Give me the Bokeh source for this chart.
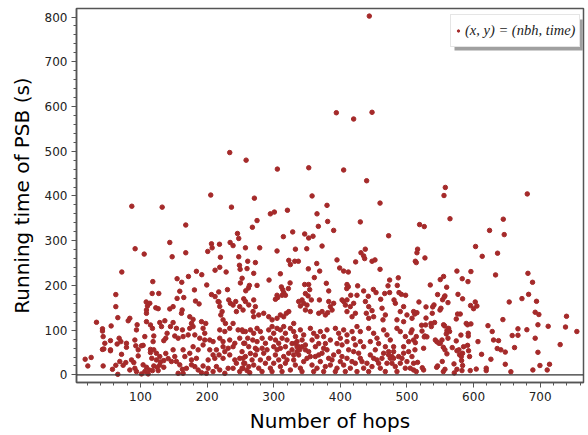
from bokeh.plotting import figure
from bokeh.models import (SingleIntervalTicker, Span, Legend, LegendItem, BoxAnnotation,
                          ColumnDataSource, Range1d)
from bokeh.embed import file_html
from bokeh.resources import INLINE

# ---- data: (number of hops, running time in s) ----
upper = [(87,377),(132.6,375),(205.5,402),(234,497),(236.6,375),(258.6,480),(271,395),(275,345),
 (295,360),(301,364),(305.5,460),(320.6,368),(443.5,802),(394,586),(420,572),(447.6,587),(352.6,463),
 (405,458),(439.5,434),(357.6,400),(380,379),(459.6,384),(557.6,419),(555.6,401),(680.6,404.5),
 (365,360),(564.6,349),(644.6,348)]
left_mid = [(168,335),(144,296),(92,282),(105.6,270),(147.6,264),(168,273),(72,230),(118.5,208.5),
 (63,179.5),(117.6,182),(127.5,182),(108.6,163),(155,215),(162,207),(172,220),(184,231.5),(192,224),
 (159,187),(181,190),(155,171),(165,173),(182.6,165),(199.5,201),(206.6,293),(207.6,284),(218.6,292),
 (201,276),(220,263),(234.6,296),(239,289),(245.6,316),(247.5,305),(247.5,264),(212,234),(219,240.5),
 (228.6,230),(248.6,245),(249.6,236),(250,205.6),(252.6,216),(206.6,179.5),(212,175),(217.5,185.5),
 (230.6,190.6),(232.5,167.6),(218,163),(255,170),(258,188),(257.6,284)]
center_mid = [(268,330),(381,343),(367,332),(390,323),(430,342),(328.5,319.6),(314.5,309),(346.5,315),
 (352.5,306),(359,310),(472.5,311),(279,284),(305,277),(332.6,281),(349.6,282),(372.6,288),(261,254),
 (272.5,251),(260,237.6),(270,227),(322.6,256),(325,246.5),(331.6,254),(337,254),(364.6,249),(352,237),
 (369,232),(310,226),(361,217.5),(395,257),(399,239),(405,232),(412,230),(423,252.6),(431,273),
 (437.5,281),(435,266),(436.5,260),(447.6,254),(452,257),(459.6,236),(487,217),(474,212),(471.6,199),
 (485.5,200),(293,212),(324.6,205.6),(346.5,202),(352.5,202),(379,204.7),(410,202),(412,197),
 (409.6,193),(426,199),(263.5,200),(275,200),(262,194),(311.5,196.7),(313.5,190.6),(315,184),(322,193),
 (305,178),(312.6,178),(317.6,178),(354,190.6),(347.6,181.7),(351.6,176.6),(368.6,167.6),(382.6,187.7),
 (402.6,167.6),(415.6,178),(425,178),(435,187.7),(442,175.7),(449.6,191),(453.6,184),(460.6,169),
 (466.6,182),(474,184),(480.6,167.6),(488,184),(491.6,180),(498,178),(356.5,167.6),(512.6,254)]
right_mid = [(519,336),(526,331.5),(624,323),(646,313.6),(603,287),(516,281),(515,273),(527,261.5),
 (514,251),(613,265),(636,272),(575,232),(596,231),(555,220),(550,213),(583,215),(591.6,208.5),
 (633,223.5),(681.6,227),(688.5,207),(535,201),(559.6,196),(546,179.5),(557,176.6),(553.5,168),
 (576.6,180),(583.5,170),(682.6,180),(672.6,170.5),(518,163),(561.6,161.6),(602.5,163),(653.5,163),
 (694.5,164.5)]
right_low = [(556,174),(605,154),(600,148),(595.5,155),(692.5,140),(698,135),(739.5,131),(738,107),
 (755,97),(712,108.6),(696.6,112),(692.5,82),(730,67.7),(696.6,50.5),(644,123.6),(680,101),(666.6,103),
 (666.6,88.5),(658,88),(661.5,61),(621.6,110),(628,97),(630,78),(637.5,76.6),(635.5,59),(641,56),
 (647.6,51),(606.6,74.4),(612,46),(626,35),(647.6,23.7),(656,7),(689,11),(699.6,21),(714,23.7),
 (710.5,11),(619,15),(619,9.6),(604,13),(595,9.6),(582.6,9.6),(575,12.5),(571,4.5),(583.5,21),
 (570.6,24.6),(582,32),(579,45),(581.6,41),(583.5,48.3),(575,54),(578,56),(585,63),(591,66),(592.5,54),
 (594,41),(592,93),(592,87),(589,115),(591,112),(596,114),(580,136),(576,136),(574,125),(581,89),
 (568,61),(574,76),(562.6,104),(564,97),(560,99),(555,112),(556.6,109.5),(559,91.6),(561.6,82),
 (552.6,78),(550,70.6),(554.6,61.7),(557,56),(560,47),(553,30),(546,20),(544.6,17),(557,12.5),
 (554.6,7.4),(542.6,78),(545,74),(548,70.6),(541.5,117),(536,115),(536.6,108),(538,137.7),(538.6,152),
 (549.6,145),(551,149),(528,111.6),(522,111),(522.6,98),(527,87),(530,85),(526,85),(514,85.6),
 (512.6,72),(525,59.5),(506,94.5),(512,56),(516,28),(510,11),(514,7.4),(523,16),(525,11),(528.6,127),
 (528.6,152),(510,141.5),(515,139),(511.6,136),(540.6,156.4)]
left_low = [(114,160),(110.5,154),(123,150),(126.6,148),(144,147.5),(149,152.6),(162.6,145),(161.6,137.7),
 (188,158.7),(174,130),(179,124),(176.6,115),(216.6,164),(219,153),(222.6,141.5),(220.6,134),(224,123),
 (227.6,115),(235,160),(239,156),(243,164),(249,152.6),(254,145),(244,141.5),(109,145),(109,137.7),
 (84,126.5),(81.6,121),(63,152.6),(66,128),(34,117.6),(43,103),(43,98),(56,109.5),(95,112),(94,100.6),
 (109,119),(115,111.7),(118,104),(129,117),(131.6,108),(136.6,121),(149,117),(145,108),(140,93),(138,82),
 (135,76.6),(120,87),(119,74.4),(106.5,85.6),(104,66),(91.6,78),(93,65),(68,82),(70.6,74.4),(79,70.6),
 (79,61.7),(46.5,70.6),(43,57),(55,56),(17,35),(26,39),(21,20),(44,20),(58,12.5),(63,21.5),(66,1.3),
 (71.6,46),(69,30),(74,21.5),(78,27.5),(86.6,33.5),(90,27.5),(91.6,14.7),(84,11),(94,7.4),(96.6,42.5),
 (96.6,56),(101.6,65),(104,22.4),(109,17),(106.5,7.4),(113,11),(111.6,2.2),(101.6,2.2),(115,57),(115,50),
 (120,56),(124,48.3),(117,37),(124,33.5),(129,41),(130,29),(135,32),(120,20),(125,17),(129,22),(135,17),
 (118,9.6),(126.6,9.6),(138,48),(141.6,36.4),(149,56),(151.5,41),(146.5,30),(154,30),(159,22.4),
 (163,12.5),(156.6,3.6),(164,3.6),(169,14.7),(176.6,22.4),(164,56),(166.6,41),(174,48.3),(179,63),
 (176.6,33.5),(184,37),(186.6,56),(194,67),(151.5,87),(156.6,82),(164,85.6),(171.6,89.4),(181.6,89.4),
 (189,82),(196.5,93),(196.5,78),(154,104),(163,100.6),(174,104),(179,108),(191.6,119),(194,104),(198,115),
 (181.6,18.5),(186.6,11),(194,20),(191.6,5),(201.6,14.7),(199,3.6),(209,7.4),(214,18.5),(219,11),
 (226.6,3.6),(231.6,14.7),(204,56),(209,44.7),(201.6,33.5),(214,56),(211.6,37),(218,44.7),(224,63),
 (226.6,52),(224,37),(231.6,59.5),(234,44.7),(239,63),(241.6,33.5),(204,78),(209,74.4),(219,82),
 (224,74.4),(234,78),(241.6,70.6),(249,82),(254,97),(256.5,70.6),(219,100.6),(226.6,97),(234,104),
 (239,115),(246.6,100.6),(244,26),(249,37),(254,14.7),(239,14.7),(249,7.4),(256.5,26),(44,85.6),
 (55,76.6),(45,58),(55,54),(65,69)]
center_top = [(257.6,164),(262.6,156.4),(270,167.6),(272.5,152.6),(269,141.5),(277.5,134),(270,130),
 (302.6,169),(306,173),(285,137.7),(292.5,130),(297.6,123),(305,126.5),(310,134),(315,130),(319,137.7),
 (322.6,141.5),(337.5,164),(342.6,167.6),(345,160),(340,154),(350,156),(355,141.5),(347.6,145),
 (382.6,164),(385,152.6),(387.6,145),(381,139),(390,160),(367.6,137.7),(372.6,141.5),(377.6,134),
 (405,164),(410,167.6),(407.6,156),(415,152.6),(420,160),(410,141.5),(422.6,137.7),(417.6,130),
 (437.6,164),(442.6,152.6),(447.6,143.6),(439,137.7),(450,130),(442.6,126.5),(462.6,149),(467.6,134),
 (464,123),(482.6,160),(495,152.6),(490,141.5),(500,134),(485,123),(495,119),(507.6,126.5)]
center_midlow = [(252.6,100.6),(257.5,96.8),(265,100.6),(270,93),(275,104),(280,96.8),(261,82),(268.6,78),
 (255,70.6),(275,74.4),(282.6,82),(287.6,70.6),(262.5,63),(272.5,59.5),(282.6,59.5),
 (292.5,100.6),(297.6,108),(300,93),(305,104),(310,100.6),(315,108),(317.6,93),(295,82),(302.6,78),
 (307.5,70.6),(312.6,82),(320,78),(300,63),(310,59.5),(317.6,63),
 (325,104),(330,96.8),(332.6,85.6),(335,74.4),(327.6,70),(337.5,63),(330,115),(340,100.6),(345,89.4),
 (342.6,78),(347.6,67),
 (355,104),(360,93),(365,85.6),(357.6,78),(370,96.8),(375,85.6),(380,100.6),(367.6,70),(377.6,70),
 (385,78),(362.6,63),(375,59.5),
 (392.6,104),(397.5,93),(400,82),(405,100.6),(410,89.4),(395,70),(402.6,67),(410,74.4),(417.6,96.8),
 (420,81),(425,108),(430,96.8),(422.6,67),(430,74.4),(435,63),
 (442.5,104),(450,93),(455,82),(445,74.4),(457.5,70),(465,100.6),(470,89.4),(475,78),(467.6,63),
 (480,63),(485,104),(490,96.8),(497.6,85.6),(502.6,74.4),(495,63),(507.6,100.6),(510,78)]
center_low = [(252.5,52),(257.5,41),(255,26),(262.5,18.5),(252.5,15),(260,9.6),(267.5,33.5),(272.5,44.6),
 (270,22),(277.5,15),(280,33.5),(285,48.4),(287.5,26),(292.5,37),(295,15),(300,26),(302.5,44.6),
 (307.5,33.5),(310,18.5),(315,41),(317.5,26),(322.5,48.4),(325,11),(330,33.5),(332.5,22),(337.5,44.6),
 (340,15),(345,29.7),(350,37),(352.5,52),(357.5,22),(362.5,41),(365,15),(370,29.7),(372.5,48.4),
 (377.5,18.5),(382.5,37),(385,22),(390,44.6),(395,15),(400,29.7),(405,22),(410,37),(415,15),(420,52),
 (422.5,26),(430,37),(435,15),(440,26),(445,44.6),(447.5,18.5),(455,33.5),(460,15),(465,48.4),(470,26),
 (475,37),(480,52),(482.5,18.5),(487.5,41),(490,26),(495,48.4),(500,29.7),(505,15),(507.5,41),
 (254,37),(265,48),(264,5),(275,56),(282.5,7.4),(290,56),(297.5,7.4),(305,56),(312.5,7.4),(320,33.5),
 (327.5,56),(332.5,70.7),(335,52),(342.5,7.4),(347.5,56),(355,41),(360,7.4),(367.5,44.6),(375,7.4),
 (380,56),(387.5,33.5),(392.5,7.4),(397.5,52),(402.5,41),(407.5,7.4),(412.5,56),(417.5,29.7),(425,7.4),
 (427.5,48.4),(432.5,29.7),(442.5,7.4),(450,37),(452.5,56),(457.5,26),(462.5,37),(467.5,7.4),
 (472.5,52),(477.5,26),(485,7.4),(492.5,37),(497.5,15),(502.5,52),(510,26),(472.5,44.6),(477.5,41),
 (480,37),(335,63),(339,56),(330,44.6),(342.5,63)]

groups = [upper, left_mid, center_mid, right_mid, right_low, left_low, center_top, center_midlow, center_low]
nbh = [pt[0] for g in groups for pt in g]
time = [pt[1] for g in groups for pt in g]

x_ticks_interval = 100
y_ticks_interval = 100

X0, X1 = 4, 765
Y0, Y1 = -17, 819

p = figure(width=588, height=435, output_backend="svg", toolbar_location=None,
           x_range=Range1d(X0, X1), y_range=Range1d(Y0, Y1))
p.min_border_left = 76
p.min_border_right = 5
p.min_border_top = 8
p.min_border_bottom = 53
p.background_fill_color = "white"
p.border_fill_color = "white"
p.grid.visible = False
p.outline_line_color = "#555555"
p.outline_line_width = 1.5

for ax, iv in ((p.xaxis[0], x_ticks_interval), (p.yaxis[0], y_ticks_interval)):
    ax.ticker = SingleIntervalTicker(interval=iv, num_minor_ticks=5)
    ax.axis_line_color = "#555555"
    ax.axis_line_width = 1.5
    ax.major_tick_line_color = "#555555"
    ax.minor_tick_line_color = "#555555"
    ax.major_tick_out = 5
    ax.major_tick_in = 0
    ax.minor_tick_out = 3
    ax.minor_tick_in = 0
    ax.major_label_text_font = "DejaVu Sans"
    ax.major_label_text_font_size = "12px"
    ax.major_label_text_color = "#222222"
    ax.axis_label_text_font = "DejaVu Sans"
    ax.axis_label_text_font_size = "20px"
    ax.axis_label_text_font_style = "normal"
    ax.axis_label_text_color = "black"

p.xaxis.axis_label = "Number of hops"
p.yaxis.axis_label = "Running time of PSB (s)"
p.xaxis.major_label_standoff = 4
p.yaxis.major_label_standoff = 4
p.xaxis.axis_label_standoff = 5
p.yaxis.axis_label_standoff = 8

p.add_layout(Span(location=0, dimension="width", line_color="#333333", line_width=1.3))

src = ColumnDataSource(dict(nbh=nbh, time=time))
r = p.scatter("nbh", "time", source=src, size=4.5, color="#a52a2a", line_color="#a52a2a")

# legend shadow (screen-pixel geometry converted through the plot ranges)
fw, fh = 507.0, 374.0
def sx(px):
    return X0 + (px - 76) / fw * (X1 - X0)
def sy(py):
    return Y1 - (py - 8) / fh * (Y1 - Y0)
p.add_layout(BoxAnnotation(left=sx(454), right=sx(582.3), top=sy(19), bottom=sy(50),
                           fill_color="#a0a0a0", fill_alpha=1.0, line_color=None))

legend = Legend(items=[LegendItem(label="(x, y) = (nbh, time)", renderers=[r])],
                location=(374, 335), padding=4, spacing=0, glyph_width=6, glyph_height=23,
                label_standoff=4, label_height=23,
                label_text_font="Liberation Serif", label_text_font_style="italic",
                label_text_font_size="14.5px", label_text_color="#222222",
                border_line_color="#cccccc", border_line_width=1,
                background_fill_color="white", background_fill_alpha=1.0, margin=0)
p.add_layout(legend, "center")

open("out.html", "w").write(file_html(p, INLINE))
